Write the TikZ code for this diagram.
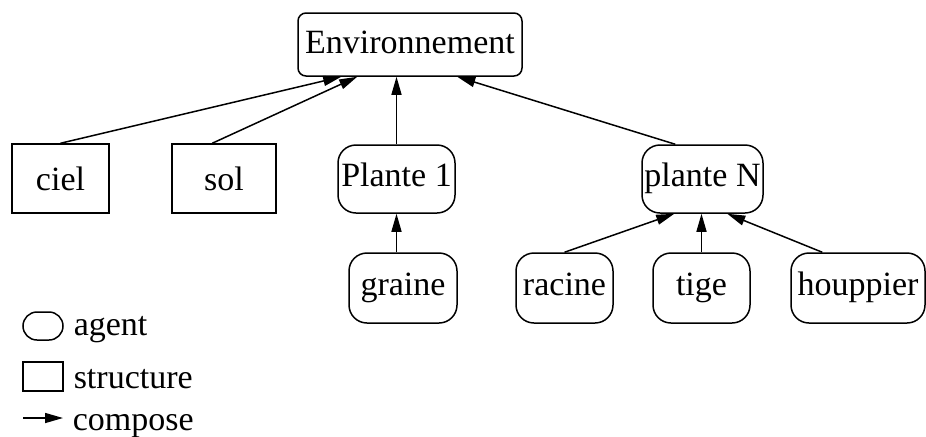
\documentclass[tikz,border=0pt]{standalone}
\usepackage{fontspec}
\setmainfont{Liberation Serif}
\usetikzlibrary{calc,arrows.meta}

\tikzset{
  agent/.style={draw, rounded corners=9pt, inner sep=0pt, minimum height=35pt,
    text height=11pt, text depth=4pt},
  structure/.style={draw, inner sep=0pt, minimum height=34.5pt,
    text height=11.5pt, text depth=0pt},
  compose/.style={-{Triangle[length=9pt,width=5pt]}},
  legend/.style={anchor=base west, inner sep=0pt},
}

\begin{document}
\begin{tikzpicture}[x=0.5pt,y=-0.5pt,line width=0.75pt,
  font=\fontsize{17}{20}\selectfont]
  \useasboundingbox (0,0) rectangle (926,436);
  % top level
  \node[agent, rounded corners=4pt, minimum width=112pt, minimum height=31.5pt,
    text height=12.5pt] (env) at (410,44.5) {Environnement};
  % second level
  \node[structure, minimum width=48.5pt] (ciel) at (60.5,178.5) {ciel};
  \node[structure, minimum width=52pt] (sol) at (224,178.5) {sol\hspace{9pt}};
  \node[agent, minimum width=58.5pt, minimum height=34pt] (p1) at (396.5,179) {Plante 1};
  \node[agent, minimum width=60.5pt, minimum height=34pt] (pn) at (702.5,179) {plante N};
  % third level
  \node[agent, minimum width=54pt] (graine) at (403,288) {graine};
  \node[agent, minimum width=48.5pt] (racine) at (564.5,288) {racine};
  \node[agent, minimum width=48.5pt] (tige) at (701.5,288) {tige};
  \node[agent, minimum width=67pt] (hp) at (858,288) {houppier};
  % composition links
  \draw[compose] (ciel.north) -- ($(env.south west)+(44,0)$);
  \draw[compose] ($(sol.north west)+(41,0)$) -- ($(env.south west)+(60,0)$);
  \draw[compose] (p1.north) -- (p1.north |- env.south);
  \draw[compose] ($(pn.north west)+(34,0)$) -- ($(env.south west)+(160,0)$);
  \draw[compose] (graine.north -| p1.south) -- (p1.south);
  \draw[compose] (racine.north) -- ($(pn.south west)+(33,0)$);
  \draw[compose] (tige.north) -- (tige.north |- pn.south);
  \draw[compose] ($(hp.north west)+(32,0)$) -- ($(pn.south west)+(86,0)$);
  % legend
  \node[draw, rounded corners=7pt, minimum width=20pt, minimum height=14pt]
    (lagent) at (43,326) {};
  \node[legend] (tagent) at (73,335) {agent};
  \node[draw, minimum width=20pt, minimum height=14.5pt] (lstruct) at (43,376.5) {};
  \node[legend] (tstruct) at (73,388) {structure};
  \coordinate (la) at (23,418);
  \coordinate (lb) at (63,418);
  \draw[compose] (la) -- (lb);
  \node[legend] (tcomp) at (72,430) {compose};
\end{tikzpicture}
\end{document}
